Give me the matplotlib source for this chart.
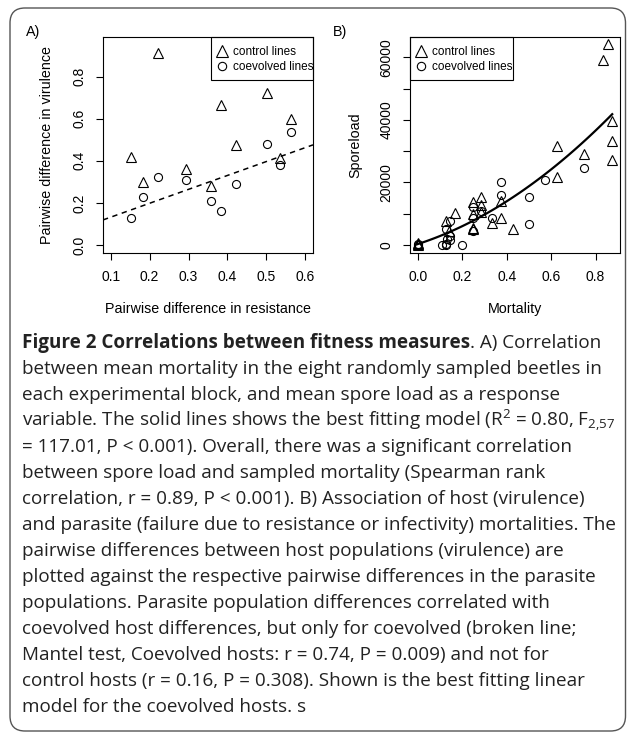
import matplotlib
matplotlib.use('Agg')
import matplotlib.pyplot as plt
import matplotlib.patches as mpatches
import numpy as np

plt.rcParams['font.family'] = ['Liberation Sans', 'DejaVu Sans']
plt.rcParams['mathtext.fontset'] = 'custom'
plt.rcParams['mathtext.rm'] = 'Open Sans'

# panel A: pairwise differences (same resistance values for both host types)
res_diff = [0.151, 0.184, 0.221, 0.293, 0.358, 0.383, 0.421, 0.502, 0.534, 0.564]
ctrl_vir = [0.417, 0.301, 0.911, 0.360, 0.280, 0.664, 0.475, 0.724, 0.415, 0.599]
coev_vir = [0.127, 0.230, 0.322, 0.309, 0.211, 0.163, 0.290, 0.480, 0.380, 0.535]

# panel B: mortality vs spore load
ctrl_mort = [0.0, 0.0, 0.0, 0.125, 0.14, 0.167, 0.25, 0.25, 0.25, 0.25,
             0.286, 0.286, 0.286, 0.333, 0.375, 0.375, 0.429, 0.625, 0.625,
             0.75, 0.833, 0.857, 0.875, 0.875, 0.875]
ctrl_spore = [0, 200, 500, 7800, 4500, 10200, 13900, 9800, 5500, 5000,
              15500, 12800, 10500, 6900, 8500, 14000, 5100, 31800, 21600,
              29000, 59200, 64200, 39700, 33300, 27200]
coev_mort = [0.0, 0.0, 0.111, 0.125, 0.125, 0.125, 0.143, 0.143, 0.143, 0.133,
             0.2, 0.25, 0.25, 0.25, 0.286, 0.333, 0.375, 0.375, 0.5, 0.5,
             0.571, 0.75]
coev_spore = [0, 300, 0, 0, 300, 5000, 7700, 3000, 1500, 1800,
              0, 8500, 4500, 12000, 11000, 8500, 20000, 16000, 15500, 6700,
              20800, 24500]
curve_coef = [28000, 23000, 300]   # quadratic fit, highest power first

caption_bold = 'Figure 2 Correlations between fitness measures'
caption_lines = [
    '. A) Correlation',
    'between mean mortality in the eight randomly sampled beetles in',
    'each experimental block, and mean spore load as a response',
    r'variable. The solid lines shows the best fitting model ($\mathregular{R^2}$ = 0.80, $\mathregular{F_{2{,}57}}$',
    '= 117.01, P < 0.001). Overall, there was a significant correlation',
    'between spore load and sampled mortality (Spearman rank',
    'correlation, r = 0.89, P < 0.001). B) Association of host (virulence)',
    'and parasite (failure due to resistance or infectivity) mortalities. The',
    'pairwise differences between host populations (virulence) are',
    'plotted against the respective pairwise differences in the parasite',
    'populations. Parasite population differences correlated with',
    'coevolved host differences, but only for coevolved (broken line;',
    'Mantel test, Coevolved hosts: r = 0.74, P = 0.009) and not for',
    'control hosts (r = 0.16, P = 0.308). Shown is the best fitting linear',
    'model for the coevolved hosts. s',
]

W, H = 627, 733
fig = plt.figure(figsize=(W / 100, H / 100), dpi=100)

def px_axes(l, t, r, b):
    return fig.add_axes([l / W, 1 - b / H, (r - l) / W, (b - t) / H])

def fx(x):
    return x / W

def fy(y):
    return 1 - y / H

axA = px_axes(103, 37, 313, 253)
axB = px_axes(410, 37, 620, 253)

def style(ax):
    for s in ax.spines.values():
        s.set_linewidth(0.8)
    ax.tick_params(direction='out', length=5, width=0.8, labelsize=10, pad=7)

mk = dict(linestyle='none', mfc='none', mec='black', mew=0.8)

# ---- panel A
axA.plot(res_diff, ctrl_vir, marker='^', ms=7.5, **mk)
axA.plot(res_diff, coev_vir, marker='o', ms=5.8, **mk)
slope, icpt = np.polyfit(res_diff, coev_vir, 1)
axA.axline((0, icpt), slope=slope, color='black', lw=1.1, dashes=(3.5, 3))
axA.set_xlim(0.08, 0.62)
axA.set_ylim(-0.038, 0.988)
axA.set_xticks([0.1, 0.2, 0.3, 0.4, 0.5, 0.6])
axA.set_yticks([0.0, 0.2, 0.4, 0.6, 0.8])
axA.set_yticklabels(['0.0', '0.2', '0.4', '0.6', '0.8'])
style(axA)

# ---- panel B
axB.plot(ctrl_mort, ctrl_spore, marker='^', ms=7.5, **mk)
axB.plot(coev_mort, coev_spore, marker='o', ms=5.8, **mk)
xc = np.linspace(0, max(ctrl_mort), 100)
axB.plot(xc, np.polyval(curve_coef, xc), color='black', lw=1.6)
axB.set_xlim(-0.035, 0.91)
axB.set_ylim(-2560, 66560)
axB.set_xticks([0.0, 0.2, 0.4, 0.6, 0.8])
axB.set_yticks(range(0, 60001, 10000))
axB.set_yticklabels(['0', '', '20000', '', '40000', '', '60000'])
style(axB)

for ax in (axA, axB):
    plt.setp(ax.get_yticklabels(), rotation=90, va='center')

# axis labels
fig.text(fx(208), fy(309), 'Pairwise difference in resistance', ha='center', va='center', fontsize=10.3)
fig.text(fx(47), fy(145), 'Pairwise difference in virulence', ha='center', va='center',
         rotation=90, fontsize=10.3)
fig.text(fx(515), fy(309), 'Mortality', ha='center', va='center', fontsize=10.3)
fig.text(fx(355), fy(145), 'Sporeload', ha='center', va='center', rotation=90, fontsize=10.3)
fig.text(fx(26), fy(32), 'A)', ha='left', va='center', fontsize=10.3)
fig.text(fx(333), fy(32), 'B)', ha='left', va='center', fontsize=10.3)

# legends
def legend(ax, x0, x1, xm, xt):
    ax.add_patch(mpatches.Rectangle((fx(x0), fy(80)), (x1 - x0) / W, 43 / H,
                                    transform=fig.transFigure, fill=False,
                                    lw=0.8, ec='black', clip_on=False))
    ax.plot([fx(xm)], [fy(51)], marker='^', ms=8, transform=fig.transFigure,
            clip_on=False, **mk)
    ax.plot([fx(xm)], [fy(66)], marker='o', ms=6, transform=fig.transFigure,
            clip_on=False, **mk)
    ax.text(fx(xt), fy(52), 'control lines', transform=fig.transFigure,
            va='center', fontsize=8.5, clip_on=True)
    ax.text(fx(xt), fy(67), 'coevolved lines', transform=fig.transFigure,
            va='center', fontsize=8.5, clip_on=True)

legend(axA, 211, 313, 222, 233)
legend(axB, 410, 512.7, 421, 432)

# caption
cap_kw = dict(family=['Open Sans', 'DejaVu Sans'], fontsize=13.6, color='#222222', va='baseline')
renderer = fig.canvas.get_renderer()
y0, dy = 348, 26
tb = fig.text(fx(22), fy(y0), caption_bold, fontweight='bold', **cap_kw)
bb = tb.get_window_extent(renderer=renderer)
fig.text(bb.x1 / W, fy(y0), caption_lines[0], **cap_kw)
for i, line in enumerate(caption_lines[1:], start=1):
    fig.text(fx(22), fy(y0 + dy * i), line, **cap_kw)

# outer rounded frame
fig.add_artist(mpatches.FancyBboxPatch((0.10, 0.02), 6.155, 7.23,
                                       boxstyle='round,pad=0,rounding_size=0.15',
                                       transform=fig.dpi_scale_trans, fill=False,
                                       ec='#555555', lw=1.0))

fig.savefig('out.png', dpi=100)
